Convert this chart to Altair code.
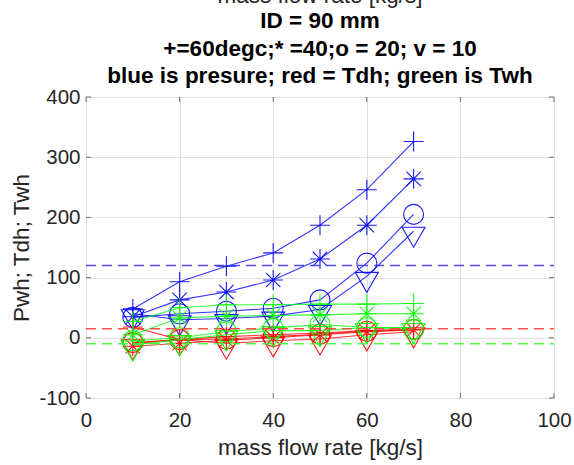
import altair as alt
import pandas as pd

# ---------------- data ----------------
FLOW = [10, 20, 30, 40, 50, 60, 70]
TEMPS = ["60", "40", "20", "10"]          # markers: + , * , o , v

PWH_60 = [48, 93, 119, 141, 187, 246, 326]
PWH_40 = [35, 63, 76, 96, 131, 187, 264]
PWH_20 = [34, 40, 44, 49, 63, 124, 205]
PWH_10 = [40, 30, 32, 36, 47, 102, 177]

TDH_60 = [18, -3, 2, 5, 8, 12, 14]
TDH_40 = [-14, -9, -4, 0, 5, 10, 13]
TDH_20 = [-8, -3, -2, 2, 6, 11, 14]
TDH_10 = [-10, -3, -9, -5, -2, 5, 10]

TWH_60 = [27, 50, 55, 55, 56, 56, 57]
TWH_40 = [5, 33, 36, 37, 38, 40, 40]
TWH_20 = [-5, 0, 10, 16, 22, 17, 14]
TWH_10 = [-12, -3, 5, 12, 12, 17, 17]

QUANTITIES = ["Pwh", "Tdh", "Twh"]
LIMITS = [120, 15, -10]

X_TICKS = [0, 20, 40, 60, 80, 100]
Y_TICKS = [-100, 0, 100, 200, 300, 400]

TITLE_TOP = "mass flow rate [kg/s]"
TITLE_LINES = ["ID = 90 mm", "+=60degc;* =40;o = 20; v = 10",
               "blue is presure; red = Tdh; green is Twh"]
X_TITLE = "mass flow rate [kg/s]"
Y_TITLE = "Pwh; Tdh; Twh"

SERIES = {
    "Pwh": [PWH_60, PWH_40, PWH_20, PWH_10],
    "Tdh": [TDH_60, TDH_40, TDH_20, TDH_10],
    "Twh": [TWH_60, TWH_40, TWH_20, TWH_10],
}

rows = []
for q in QUANTITIES:
    for t, vals in zip(TEMPS, SERIES[q]):
        for x, v in zip(FLOW, vals):
            rows.append({"flow": x, "value": v, "quantity": q, "temp": t})
df = pd.DataFrame(rows)
xt_df = pd.DataFrame({"flow": X_TICKS})
yt_df = pd.DataFrame({"value": Y_TICKS})

# ---------------- styling ----------------
W, H = 468, 301
FONT = "Liberation Sans"
COLORS = ["#0000ff", "#ff0000", "#00ff00"]
DASH_COLORS = ["#3a3aff", "#ff3a3a", "#3aff3a"]
PLUS = "M-1,0L1,0M0,-1L0,1"
STAR = "M-1,0L1,0M0,-1L0,1M-0.72,-0.72L0.72,0.72M-0.72,0.72L0.72,-0.72"
TRI = "M-1.15,-0.4L1.15,-0.4L0,1.6Z"

xscale = alt.Scale(domain=[0, 100], nice=False, zero=False)
yscale = alt.Scale(domain=[-100, 400], nice=False, zero=False)
sscale = alt.Scale(domain=TEMPS, range=[PLUS, STAR, "circle", TRI])

common_axis = dict(grid=True, gridColor="#dfdfdf", gridWidth=1,
                   ticks=False, tickSize=0, domain=False, labelFontSize=20.5,
                   labelColor="#262626", labelFont=FONT,
                   labelExpr="'' + datum.value", labelFlush=False,
                   titleFont=FONT, titleFontSize=22.5,
                   titleFontWeight="normal", titleColor="#262626")
xaxis = alt.Axis(values=X_TICKS, labelPadding=12, title=X_TITLE,
                 titlePadding=6, **common_axis)
yaxis = alt.Axis(values=Y_TICKS, labelPadding=6, title=Y_TITLE,
                 titlePadding=5, **common_axis)


def X(field="flow"):
    return alt.X(f"{field}:Q", scale=xscale, axis=xaxis, title=X_TITLE)


def Y(field="value"):
    return alt.Y(f"{field}:Q", scale=yscale, axis=yaxis, title=Y_TITLE)


base = alt.Chart(df)
layers = []

for q, col in zip(QUANTITIES, COLORS):
    sub = base.transform_filter(alt.datum.quantity == q)
    layers.append(
        sub.mark_line(strokeWidth=1.1, color=col, stroke=col, opacity=0.8).encode(
            x=X(), y=Y(), detail="temp:N",
        )
    )
    layers.append(
        sub.mark_point(filled=False, size=400, strokeWidth=1.1, opacity=0.9,
                       color=col, stroke=col).encode(
            x=X(), y=Y(),
            shape=alt.Shape("temp:N", scale=sscale, legend=None),
        )
    )

# dashed limit lines
for q, lim, col in zip(QUANTITIES, LIMITS, DASH_COLORS):
    layers.append(
        alt.Chart(alt.Data(values=[{"value": lim, "quantity": q}])).mark_rule(
            strokeDash=[10, 6], strokeWidth=1.6, color=col, stroke=col, opacity=0.9
        ).encode(y=Y(), x=alt.value(0), x2=alt.value(W))
    )

# inward ticks on all four sides
TC = "#6e6e6e"
layers.append(alt.Chart(xt_df).mark_rule(color=TC, strokeWidth=1).encode(
    x=X(), y=alt.value(H), y2=alt.value(H - 5)))
layers.append(alt.Chart(xt_df).mark_rule(color=TC, strokeWidth=1).encode(
    x=X(), y=alt.value(0), y2=alt.value(5)))
layers.append(alt.Chart(yt_df).mark_rule(color=TC, strokeWidth=1).encode(
    y=Y(), x=alt.value(0), x2=alt.value(5)))
layers.append(alt.Chart(yt_df).mark_rule(color=TC, strokeWidth=1).encode(
    y=Y(), x=alt.value(W - 5), x2=alt.value(W)))

# title lines
layers.append(
    alt.Chart(alt.Data(values=[{"t": TITLE_TOP}])).mark_text(
        font=FONT, fontSize=22.5, color="#262626", baseline="alphabetic", align="center"
    ).encode(text="t:N", x=alt.value(W / 2), y=alt.value(-94))
)
for i, line in enumerate(TITLE_LINES):
    layers.append(
        alt.Chart(alt.Data(values=[{"t": line}])).mark_text(
            font=FONT, fontSize=22.5, fontWeight="bold", color="#000000",
            baseline="alphabetic", align="center"
        ).encode(text="t:N", x=alt.value(W / 2), y=alt.value(-69 + 27.7 * i))
    )

chart = alt.layer(*layers).properties(
    width=W, height=H,
    autosize=alt.AutoSizeParams(type="none"),
    padding={"left": 86, "top": 97, "right": 20, "bottom": 67},
).configure_view(stroke="#8c8c8c", strokeWidth=1).configure(background="white")

chart.save("out.html", embed_options={"renderer": "svg", "actions": False})
